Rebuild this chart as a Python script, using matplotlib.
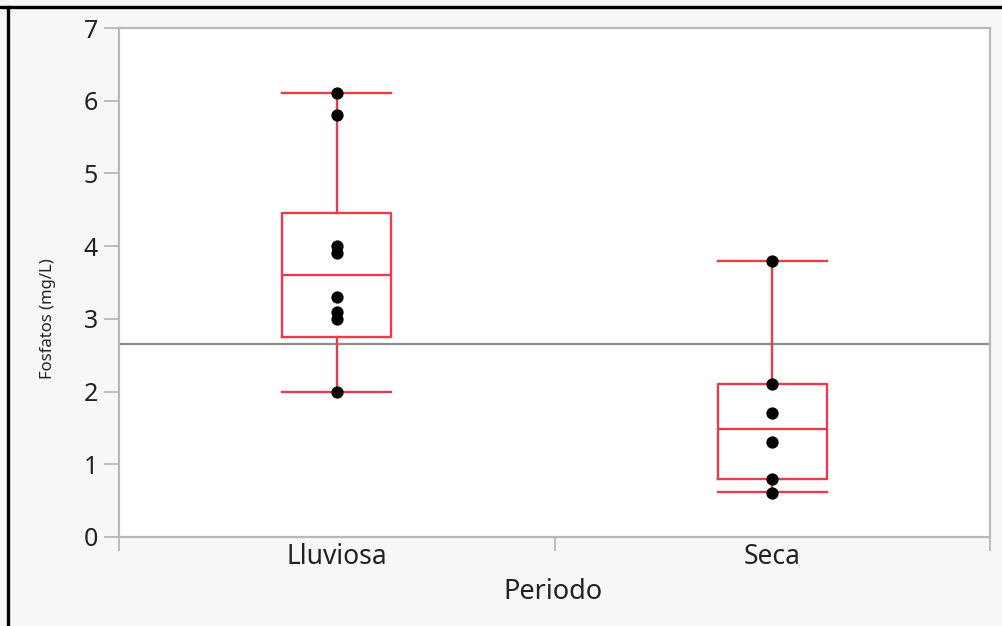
import matplotlib
matplotlib.use('Agg')
import matplotlib.pyplot as plt
from matplotlib.lines import Line2D

plt.rcParams['font.family'] = ['Noto Sans', 'DejaVu Sans']

# 数据
periodos = ['Lluviosa', 'Seca']
lluviosa_vals = [6.1, 5.8, 4.0, 3.9, 3.3, 3.1, 3.0, 2.0]
seca_vals = [3.8, 2.1, 1.7, 1.3, 0.8, 0.6]

# 箱线图统计量
whis_lo = [2.0, 0.62]
q1 = [2.75, 0.80]
medians = [3.6, 1.48]
q3 = [4.45, 2.10]
whis_hi = [6.1, 3.8]
grand_mean = 2.66

box_color = '#e63c50'
frame_color = '#b8b8b8'
text_color = '#222222'

fig = plt.figure(figsize=(10.02, 6.26), dpi=100, facecolor='#f7f7f7')
ax = fig.add_axes([119 / 1002, 1 - 537 / 626, 871 / 1002, 509 / 626])
ax.set_facecolor('white')

positions = [0.5, 1.5]
stats = []
for i, name in enumerate(periodos):
    stats.append({
        'label': name,
        'whislo': whis_lo[i],
        'q1': q1[i],
        'med': medians[i],
        'q3': q3[i],
        'whishi': whis_hi[i],
        'fliers': [],
    })

line_kw = dict(color=box_color, linewidth=1.7)
ax.bxp(stats, positions=positions, widths=0.25, capwidths=0.25,
       boxprops=line_kw, medianprops=line_kw, whiskerprops=line_kw,
       capprops=line_kw, showfliers=False, manage_ticks=False, zorder=2)

# 总均值线
ax.axhline(grand_mean, color='#8c8c8c', linewidth=1.6, zorder=1)

# 数据点
for pos, vals in zip(positions, [lluviosa_vals, seca_vals]):
    ax.scatter([pos] * len(vals), vals, s=78, color='black', zorder=3,
               linewidths=0)

ax.set_xlim(0, 2)
ax.set_ylim(0, 7)

# 坐标轴样式
for side in ['left', 'right', 'top', 'bottom']:
    ax.spines[side].set_color(frame_color)
    ax.spines[side].set_linewidth(1.6)

ax.set_yticks(range(0, 8))
ax.tick_params(axis='y', direction='out', length=11, width=1.3,
               color=frame_color, labelsize=18, labelcolor=text_color, pad=4)

ax.set_xticks([0, 1, 2])
ax.set_xticklabels(['', '', ''])
ax.set_xticks(positions, minor=True)
ax.set_xticklabels(periodos, minor=True)
ax.tick_params(axis='x', which='major', direction='out', length=10, width=1.3,
               color=frame_color)
ax.tick_params(axis='x', which='minor', length=0, labelsize=19,
               labelcolor=text_color, pad=4)

ax.set_xlabel('Periodo', fontsize=19.5, color=text_color)
ax.xaxis.set_label_coords(0.498, -0.08)
ax.set_ylabel('Fosfatos (mg/L)', fontsize=12, color=text_color)
ax.yaxis.set_label_coords(-0.072, 0.43)

# 黑色外框（上、左）
fig.add_artist(Line2D([0, 1], [1 - 7 / 626, 1 - 7 / 626], color='black',
                      linewidth=2.4, transform=fig.transFigure))
fig.add_artist(Line2D([7.5 / 1002, 7.5 / 1002], [0, 1 - 7 / 626], color='black',
                      linewidth=2.4, transform=fig.transFigure))

fig.savefig('out.png', dpi=100, facecolor=fig.get_facecolor())
